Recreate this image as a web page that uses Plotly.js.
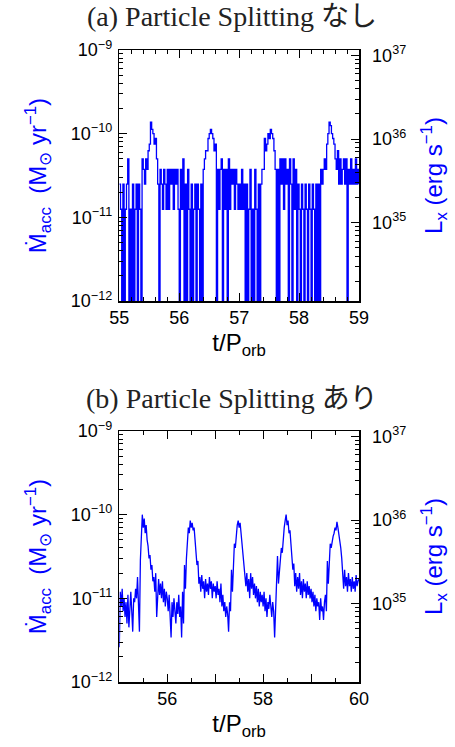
<!DOCTYPE html>
<html>
<head>
<meta charset="utf-8">
<script src="https://cdn.plot.ly/plotly-3.0.1.min.js"></script>
<style>
html,body{margin:0;padding:0;background:#fff;}
#chart{width:455px;height:747px;}
</style>
</head>
<body>
<div id="chart"></div>
<script>
// ---- DATA ----
// Panel (a): accretion rate without particle splitting, units of 1e-11 Msun/yr (0 = no accretion in that step)
var tStartA = 55.0, dtA = 0.02;
var mdotA = [
  2.5,1.25,0,2.5,0,1.25,2.5,5,0,1.25,0,2.5,0,1.25,2.5,0,2.5,1.25,0,5,
  3.75,2.5,5,3.75,6.25,7.5,13.75,11.25,10,7.5,8.75,5,2.5,0,3.75,2.5,1.25,3.75,2.5,1.25,
  3.75,1.25,3.75,2.5,3.75,1.25,3.75,2.5,3.75,1.25,0,3.75,1.25,5,0,2.5,0,3.75,1.25,0,
  2.5,0,1.25,2.5,0,2.5,1.25,0,2.5,0,3.75,5,6.25,6.25,8.75,10,11.25,10,8.75,6.25,
  7.5,0,3.75,1.25,3.75,5,0,3.75,1.25,3.75,0,5,1.25,3.75,2.5,3.75,1.25,3.75,2.5,1.25,
  2.5,1.25,3.75,1.25,2.5,0,2.5,0,1.25,3.75,0,1.25,0,3.75,1.25,0,2.5,0,2.5,3.75,
  3.75,8.75,6.25,7.5,10,8.75,11.25,10,8.75,6.25,3.75,0,3.75,0,5,2.5,5,1.25,5,2.5,
  3.75,0,5,2.5,0,5,1.25,3.75,0,2.5,1.25,0,2.5,1.25,0,2.5,1.25,0,2.5,1.25,
  0,2.5,1.25,0,2.5,0,2.5,0,3.75,2.5,3.75,5,3.75,7.5,10,13.75,12.5,10,8.75,7.5,
  5,3.75,6.25,2.5,5,2.5,3.75,5,2.5,5,0,3.75,2.5,5,2.5,3.75,2.5,5,2.5,3.75,
  2.5
];
// Panel (b): accretion rate with particle splitting, units of 1e-11 Msun/yr
var tStartB = 55.0, dtB = 0.02;
var mdotB = [
  0.26,1.2,0.8,1.3,0.7,1.0,0.6,0.9,0.5,1.1,0.45,0.8,1.2,0.7,0.4,1.0,0.9,1.3,1.0,1.8,0.9,0.4,2.9,5.5,10,
  7,9,6,7.5,5,4.2,3,3.3,2.2,2.5,1.6,1.8,1.2,2.0,0.6,1.4,1.7,1.1,1.5,1.0,1.6,0.9,1.3,0.8,1.2,
  1.0,0.7,1.1,0.6,0.34,0.9,0.6,1.0,0.7,0.5,0.9,0.65,1.1,0.6,0.8,0.34,1.2,0.5,2.5,1.3,3.0,4.5,7,6,8.5,
  7,8,6.5,7,5,3.5,2.5,2.8,1.5,1.8,1.2,1.9,1.3,1.6,1.0,1.7,1.2,1.5,1.1,1.8,1.3,1.6,1.0,1.5,1.2,
  1.4,1.0,1.6,1.1,1.3,0.9,1.5,0.8,1.1,0.7,0.9,0.6,0.8,0.65,0.4,0.9,0.7,2.2,1.2,3.0,4.5,4.0,6,7.5,8.5,
  7,8,6,5,3.5,2.5,2.0,1.4,2.0,1.2,1.7,1.0,2.0,1.3,1.8,1.1,1.5,1.0,1.4,0.9,1.3,0.8,1.2,0.9,1.1,
  0.8,1.2,0.7,1.0,0.6,0.9,0.75,1.1,0.8,0.6,0.9,0.7,0.34,0.9,1.3,3.2,1.5,2.0,2.5,4,3.5,6,7,8.5,10,
  7.5,8.5,6,6.5,4.5,3,2.2,2.6,1.4,2.0,1.2,1.8,1.3,2.0,1.1,1.6,1.0,1.7,1.2,1.5,1.0,1.6,1.1,1.4,1.0,
  1.3,0.9,1.2,0.8,1.1,0.7,1.0,0.8,0.9,0.55,1.0,0.7,0.8,0.55,0.9,1.1,0.7,2.8,1.5,3.2,4.5,4.0,5,5.5,6,
  7,6.5,8.2,7,6,5,4.0,3,1.8,1.3,2.2,1.4,1.8,1.2,2.0,1.4,1.7,1.2,1.8,1.3,1.6,1.2,1.9,1.4,1.6,1.7
];
var unitMdot = 1e-11;      // Msun/yr per array unit
var floorMdot = 1e-13;     // zero accretion drawn below the axis floor
var yTickVals = [1e-12, 1e-11, 1e-10, 1e-9];
var yTickText = ['10<sup>\u221212</sup>', '10<sup>\u221211</sup>', '10<sup>\u221210</sup>', '10<sup>\u22129</sup>'];
var lxTickVals = [1e35, 1e36, 1e37];
var lxTickText = ['10<sup>35</sup>', '10<sup>36</sup>', '10<sup>37</sup>'];
var xTickValsA = [55, 56, 57, 58, 59];
var xTickTextA = ['55', '56', '57', '58', '59'];
var xTickValsB = [55, 56, 57, 58, 59, 60];
var xTickTextB = ['', '56', '', '58', '', '60'];
var titleA = '(a) Particle Splitting なし';
var titleB = '(b) Particle Splitting あり';

// ---- BUILD ----
function series(t0, dt, arr) {
  var x = [], y = [];
  for (var i = 0; i < arr.length; i++) {
    x.push(+(t0 + i * dt).toFixed(4));
    y.push(arr[i] > 0 ? arr[i] * unitMdot : floorMdot);
  }
  return {x: x, y: y};
}
var sA = series(tStartA, dtA, mdotA);
var sB = series(tStartB, dtB, mdotB);

var BLUE = '#0000ff';
var SANS = 'Liberation Sans, Arial, sans-serif';
var SERIF = 'Liberation Serif, DejaVu Serif, Noto Sans CJK JP, serif';

var traces = [
  {x: sA.x, y: sA.y, xaxis: 'x', yaxis: 'y', mode: 'lines', line: {color: BLUE, width: 1.3, shape: 'hv'}, hoverinfo: 'skip', showlegend: false},
  {x: [], y: [], xaxis: 'x', yaxis: 'y2', mode: 'lines', hoverinfo: 'skip', showlegend: false},
  {x: sB.x, y: sB.y, xaxis: 'x2', yaxis: 'y3', mode: 'lines', line: {color: BLUE, width: 1.3}, hoverinfo: 'skip', showlegend: false},
  {x: [], y: [], xaxis: 'x2', yaxis: 'y4', mode: 'lines', hoverinfo: 'skip', showlegend: false}
];

var xDom = [119.3 / 455, 359 / 455];
var yDomA = [1 - 301 / 747, 1 - 50 / 747];
var yDomB = [1 - 682 / 747, 1 - 431 / 747];

function xAxis(dom, anchor, range, tv, tt, minorDt) {
  return {
    domain: dom, anchor: anchor, range: range, showgrid: false, zeroline: false,
    showline: true, linecolor: '#000', linewidth: 1.5, mirror: 'ticks',
    ticks: 'inside', ticklen: 8, tickwidth: 1, tickcolor: '#000',
    tickmode: 'array', tickvals: tv, ticktext: tt,
    minor: {dtick: minorDt, ticks: 'inside', ticklen: 4, tickwidth: 1, tickcolor: '#000', showgrid: false},
    tickfont: {family: SANS, size: 18, color: '#000'},
    title: {text: 't/P<sub>orb</sub>', font: {family: SANS, size: 24, color: '#000'}, standoff: 7},
    fixedrange: true
  };
}
function yAxis(dom, anchor, side, overlay, range, tv, tt, title) {
  var ax = {
    domain: dom, anchor: anchor, side: side, type: 'log', range: range,
    showgrid: false, zeroline: false, showline: true, linecolor: '#000', linewidth: 1.5,
    ticks: 'inside', ticklen: 8, tickwidth: 1, tickcolor: '#000',
    tickmode: 'array', tickvals: tv, ticktext: tt,
    minor: {dtick: 'D1', ticks: 'inside', ticklen: 4, tickwidth: 1, tickcolor: '#000', showgrid: false},
    tickfont: {family: SANS, size: 18, color: '#000'},
    ticklabelstandoff: side === 'right' ? 8 : 2,
    title: {text: title, font: {family: SANS, size: 24, color: BLUE}, standoff: side === 'right' ? 20 : 17},
    fixedrange: true
  };
  if (overlay) ax.overlaying = overlay;
  return ax;
}

var mdotTitle = 'M\u0307<sub>acc</sub>  (M<sub>\u2299</sub> yr<sup>\u22121</sup>)';
var lxTitle = 'L<sub>x</sub> (erg s<sup>\u22121</sup>)';
var lxRange = [34.065, 37.063];

var layout = {
  width: 455, height: 747,
  margin: {l: 0, r: 0, t: 0, b: 0},
  paper_bgcolor: '#fff', plot_bgcolor: '#fff',
  showlegend: false,
  xaxis: xAxis(xDom, 'y', [55, 59], xTickValsA, xTickTextA, 0.2),
  yaxis: yAxis(yDomA, 'x', 'left', null, [-12, -9], yTickVals, yTickText, mdotTitle),
  yaxis2: yAxis(yDomA, 'x', 'right', 'y', lxRange, lxTickVals, lxTickText, lxTitle),
  xaxis2: xAxis(xDom, 'y3', [55, 60], xTickValsB, xTickTextB, 0.5),
  yaxis3: yAxis(yDomB, 'x2', 'left', null, [-12, -9], yTickVals, yTickText, mdotTitle),
  yaxis4: yAxis(yDomB, 'x2', 'right', 'y3', lxRange, lxTickVals, lxTickText, lxTitle),
  annotations: [
    {text: titleA, xref: 'paper', yref: 'paper', x: 232 / 455, y: 1 - 17 / 747, xanchor: 'center', yanchor: 'middle', showarrow: false, font: {family: SERIF, size: 28, color: '#222'}},
    {text: titleB, xref: 'paper', yref: 'paper', x: 232 / 455, y: 1 - 398 / 747, xanchor: 'center', yanchor: 'middle', showarrow: false, font: {family: SERIF, size: 28, color: '#222'}}
  ]
};

Plotly.newPlot('chart', traces, layout, {displayModeBar: false, staticPlot: true});
</script>
</body>
</html>
